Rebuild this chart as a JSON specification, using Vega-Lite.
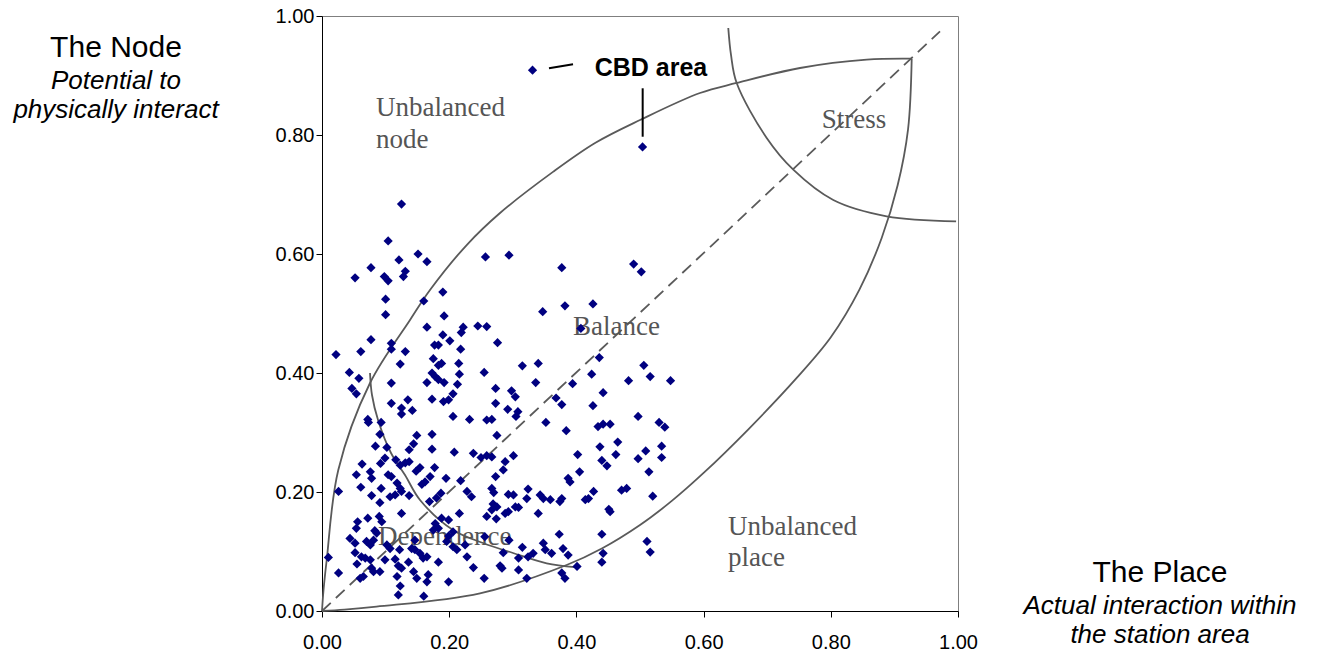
{
  "$schema": "https://vega.github.io/schema/vega-lite/v6.json",
  "width": 636,
  "height": 595,
  "autosize": {"type": "none"},
  "padding": {"left": 322, "top": 16, "right": 373, "bottom": 44},
  "background": "white",
  "config": {
    "view": {"stroke": "#7f7f7f", "strokeWidth": 1},
    "axis": {
      "domainColor": "#000000",
      "tickColor": "#000000",
      "labelColor": "#000000",
      "labelFont": "Liberation Sans",
      "labelFontSize": 20,
      "labelFlush": false,
      "labelOverlap": false,
      "grid": false,
      "tickSize": 6,
      "title": null
    }
  },
  "datasets": {
    "points": [
      {"x":0.125,"y":0.684},{"x":0.104,"y":0.622},{"x":0.151,"y":0.600},{"x":0.121,"y":0.590},{"x":0.165,"y":0.587},
      {"x":0.077,"y":0.577},{"x":0.131,"y":0.571},{"x":0.128,"y":0.562},{"x":0.052,"y":0.560},{"x":0.098,"y":0.562},
      {"x":0.104,"y":0.555},{"x":0.257,"y":0.595},{"x":0.100,"y":0.524},{"x":0.160,"y":0.521},{"x":0.190,"y":0.536},
      {"x":0.100,"y":0.498},{"x":0.192,"y":0.496},{"x":0.165,"y":0.477},{"x":0.222,"y":0.477},{"x":0.245,"y":0.479},
      {"x":0.259,"y":0.478},{"x":0.294,"y":0.598},{"x":0.377,"y":0.577},{"x":0.490,"y":0.583},{"x":0.502,"y":0.570},
      {"x":0.347,"y":0.503},{"x":0.382,"y":0.513},{"x":0.426,"y":0.516},{"x":0.407,"y":0.475},{"x":0.276,"y":0.451},
      {"x":0.436,"y":0.426},{"x":0.315,"y":0.412},{"x":0.340,"y":0.416},{"x":0.255,"y":0.401},{"x":0.506,"y":0.413},
      {"x":0.516,"y":0.394},{"x":0.424,"y":0.398},{"x":0.336,"y":0.384},{"x":0.273,"y":0.374},{"x":0.394,"y":0.382},
      {"x":0.482,"y":0.387},{"x":0.298,"y":0.370},{"x":0.304,"y":0.360},{"x":0.442,"y":0.367},{"x":0.368,"y":0.358},
      {"x":0.377,"y":0.347},{"x":0.273,"y":0.349},{"x":0.292,"y":0.339},{"x":0.308,"y":0.335},{"x":0.305,"y":0.327},
      {"x":0.426,"y":0.345},{"x":0.497,"y":0.327},{"x":0.219,"y":0.468},{"x":0.077,"y":0.456},{"x":0.190,"y":0.464},
      {"x":0.201,"y":0.454},{"x":0.109,"y":0.450},{"x":0.109,"y":0.440},{"x":0.177,"y":0.447},{"x":0.183,"y":0.447},
      {"x":0.218,"y":0.440},{"x":0.022,"y":0.431},{"x":0.061,"y":0.436},{"x":0.131,"y":0.436},{"x":0.175,"y":0.424},
      {"x":0.123,"y":0.415},{"x":0.215,"y":0.416},{"x":0.183,"y":0.413},{"x":0.188,"y":0.416},{"x":0.043,"y":0.401},
      {"x":0.058,"y":0.391},{"x":0.173,"y":0.400},{"x":0.178,"y":0.394},{"x":0.183,"y":0.389},{"x":0.216,"y":0.398},
      {"x":0.165,"y":0.384},{"x":0.192,"y":0.384},{"x":0.213,"y":0.381},{"x":0.109,"y":0.383},{"x":0.047,"y":0.374},
      {"x":0.054,"y":0.365},{"x":0.206,"y":0.365},{"x":0.173,"y":0.356},{"x":0.191,"y":0.352},{"x":0.199,"y":0.355},
      {"x":0.135,"y":0.355},{"x":0.109,"y":0.349},{"x":0.125,"y":0.341},{"x":0.125,"y":0.331},{"x":0.142,"y":0.337},
      {"x":0.206,"y":0.327},{"x":0.232,"y":0.322},{"x":0.259,"y":0.321},{"x":0.267,"y":0.322},{"x":0.072,"y":0.322},
      {"x":0.073,"y":0.317},{"x":0.093,"y":0.317},{"x":0.091,"y":0.297},{"x":0.149,"y":0.295},{"x":0.173,"y":0.297},
      {"x":0.275,"y":0.295},{"x":0.084,"y":0.277},{"x":0.102,"y":0.275},{"x":0.144,"y":0.281},{"x":0.137,"y":0.271},
      {"x":0.173,"y":0.272},{"x":0.208,"y":0.267},{"x":0.238,"y":0.265},{"x":0.250,"y":0.258},{"x":0.259,"y":0.261},
      {"x":0.267,"y":0.259},{"x":0.063,"y":0.247},{"x":0.099,"y":0.257},{"x":0.092,"y":0.248},{"x":0.116,"y":0.254},
      {"x":0.123,"y":0.245},{"x":0.131,"y":0.249},{"x":0.137,"y":0.251},{"x":0.154,"y":0.241},{"x":0.148,"y":0.235},
      {"x":0.177,"y":0.241},{"x":0.054,"y":0.229},{"x":0.076,"y":0.234},{"x":0.078,"y":0.223},{"x":0.104,"y":0.229},
      {"x":0.109,"y":0.226},{"x":0.170,"y":0.226},{"x":0.162,"y":0.217},{"x":0.157,"y":0.213},{"x":0.195,"y":0.223},
      {"x":0.218,"y":0.219},{"x":0.273,"y":0.226},{"x":0.026,"y":0.201},{"x":0.061,"y":0.208},{"x":0.093,"y":0.206},
      {"x":0.118,"y":0.215},{"x":0.123,"y":0.206},{"x":0.125,"y":0.201},{"x":0.107,"y":0.192},{"x":0.115,"y":0.195},
      {"x":0.078,"y":0.194},{"x":0.091,"y":0.182},{"x":0.137,"y":0.194},{"x":0.187,"y":0.198},{"x":0.180,"y":0.190},
      {"x":0.169,"y":0.184},{"x":0.228,"y":0.201},{"x":0.235,"y":0.192},{"x":0.267,"y":0.206},{"x":0.270,"y":0.199},
      {"x":0.269,"y":0.180},{"x":0.267,"y":0.170},{"x":0.274,"y":0.155},{"x":0.259,"y":0.159},{"x":0.125,"y":0.164},
      {"x":0.072,"y":0.156},{"x":0.090,"y":0.159},{"x":0.094,"y":0.150},{"x":0.056,"y":0.150},{"x":0.054,"y":0.139},
      {"x":0.083,"y":0.135},{"x":0.086,"y":0.131},{"x":0.216,"y":0.164},{"x":0.188,"y":0.156},{"x":0.199,"y":0.153},
      {"x":0.178,"y":0.147},{"x":0.175,"y":0.136},{"x":0.183,"y":0.139},{"x":0.206,"y":0.133},{"x":0.199,"y":0.126},
      {"x":0.196,"y":0.117},{"x":0.044,"y":0.122},{"x":0.052,"y":0.114},{"x":0.070,"y":0.117},{"x":0.076,"y":0.111},
      {"x":0.081,"y":0.119},{"x":0.102,"y":0.111},{"x":0.107,"y":0.105},{"x":0.146,"y":0.119},{"x":0.146,"y":0.103},
      {"x":0.141,"y":0.105},{"x":0.122,"y":0.103},{"x":0.052,"y":0.098},{"x":0.062,"y":0.091},{"x":0.068,"y":0.089},
      {"x":0.076,"y":0.086},{"x":0.212,"y":0.103},{"x":0.206,"y":0.108},{"x":0.225,"y":0.111},{"x":0.228,"y":0.091},
      {"x":0.256,"y":0.125},{"x":0.154,"y":0.097},{"x":0.159,"y":0.089},{"x":0.165,"y":0.091},{"x":0.010,"y":0.090},
      {"x":0.099,"y":0.086},{"x":0.115,"y":0.087},{"x":0.055,"y":0.079},{"x":0.136,"y":0.082},{"x":0.120,"y":0.076},
      {"x":0.125,"y":0.072},{"x":0.183,"y":0.082},{"x":0.078,"y":0.072},{"x":0.081,"y":0.066},{"x":0.091,"y":0.066},
      {"x":0.026,"y":0.064},{"x":0.238,"y":0.073},{"x":0.280,"y":0.076},{"x":0.144,"y":0.066},{"x":0.149,"y":0.055},
      {"x":0.167,"y":0.061},{"x":0.165,"y":0.049},{"x":0.060,"y":0.055},{"x":0.065,"y":0.058},{"x":0.118,"y":0.058},
      {"x":0.199,"y":0.049},{"x":0.255,"y":0.055},{"x":0.123,"y":0.042},{"x":0.120,"y":0.027},{"x":0.160,"y":0.025},
      {"x":0.352,"y":0.317},{"x":0.384,"y":0.303},{"x":0.434,"y":0.310},{"x":0.442,"y":0.314},{"x":0.453,"y":0.314},
      {"x":0.530,"y":0.317},{"x":0.539,"y":0.309},{"x":0.301,"y":0.261},{"x":0.288,"y":0.251},{"x":0.285,"y":0.237},
      {"x":0.402,"y":0.263},{"x":0.437,"y":0.276},{"x":0.465,"y":0.284},{"x":0.462,"y":0.263},{"x":0.440,"y":0.253},
      {"x":0.448,"y":0.244},{"x":0.497,"y":0.256},{"x":0.509,"y":0.269},{"x":0.514,"y":0.234},{"x":0.405,"y":0.234},
      {"x":0.387,"y":0.223},{"x":0.390,"y":0.217},{"x":0.293,"y":0.196},{"x":0.301,"y":0.195},{"x":0.324,"y":0.205},
      {"x":0.322,"y":0.189},{"x":0.343,"y":0.195},{"x":0.348,"y":0.189},{"x":0.359,"y":0.187},{"x":0.377,"y":0.189},
      {"x":0.374,"y":0.184},{"x":0.427,"y":0.201},{"x":0.419,"y":0.189},{"x":0.414,"y":0.187},{"x":0.471,"y":0.203},
      {"x":0.479,"y":0.206},{"x":0.520,"y":0.193},{"x":0.275,"y":0.175},{"x":0.288,"y":0.164},{"x":0.293,"y":0.167},
      {"x":0.304,"y":0.175},{"x":0.309,"y":0.174},{"x":0.340,"y":0.164},{"x":0.451,"y":0.171},{"x":0.453,"y":0.167},
      {"x":0.294,"y":0.119},{"x":0.373,"y":0.129},{"x":0.440,"y":0.129},{"x":0.315,"y":0.107},{"x":0.348,"y":0.114},
      {"x":0.351,"y":0.103},{"x":0.361,"y":0.097},{"x":0.285,"y":0.098},{"x":0.324,"y":0.091},{"x":0.332,"y":0.097},
      {"x":0.379,"y":0.105},{"x":0.387,"y":0.094},{"x":0.442,"y":0.097},{"x":0.440,"y":0.082},{"x":0.511,"y":0.117},
      {"x":0.516,"y":0.099},{"x":0.309,"y":0.089},{"x":0.283,"y":0.072},{"x":0.309,"y":0.069},{"x":0.401,"y":0.075},
      {"x":0.377,"y":0.064},{"x":0.382,"y":0.055},{"x":0.322,"y":0.055},{"x":0.548,"y":0.387},{"x":0.534,"y":0.277},
      {"x":0.534,"y":0.258},{"x":0.331,"y":0.909},{"x":0.504,"y":0.780}
    ],
    "curves": [
      {"curve":"upper","i":0,"x":0,"y":0},{"curve":"upper","i":1,"x":0.0024,"y":0.0353},{"curve":"upper","i":2,"x":0.0074,"y":0.0857},
      {"curve":"upper","i":3,"x":0.0256,"y":0.237},{"curve":"upper","i":4,"x":0.0755,"y":0.3832},{"curve":"upper","i":5,"x":0.1384,"y":0.4891},
      {"curve":"upper","i":6,"x":0.1698,"y":0.5395},{"curve":"upper","i":7,"x":0.2275,"y":0.6151},{"curve":"upper","i":8,"x":0.2799,"y":0.6689},
      {"curve":"upper","i":9,"x":0.3632,"y":0.738},{"curve":"upper","i":10,"x":0.43,"y":0.787},{"curve":"upper","i":11,"x":0.5,"y":0.8252},
      {"curve":"upper","i":12,"x":0.5943,"y":0.8706},{"curve":"upper","i":13,"x":0.652,"y":0.8874},{"curve":"upper","i":14,"x":0.7516,"y":0.9126},
      {"curve":"upper","i":15,"x":0.8565,"y":0.9266},{"curve":"upper","i":16,"x":0.9272,"y":0.9282},
      {"curve":"lower","i":0,"x":0,"y":0},{"curve":"lower","i":1,"x":0.0353,"y":0.0024},{"curve":"lower","i":2,"x":0.0857,"y":0.0074},
      {"curve":"lower","i":3,"x":0.2484,"y":0.0297},{"curve":"lower","i":4,"x":0.3847,"y":0.0773},{"curve":"lower","i":5,"x":0.44,"y":0.105},
      {"curve":"lower","i":6,"x":0.5,"y":0.1445},{"curve":"lower","i":7,"x":0.55,"y":0.185},{"curve":"lower","i":8,"x":0.6,"y":0.232},
      {"curve":"lower","i":9,"x":0.67,"y":0.305},{"curve":"lower","i":10,"x":0.745,"y":0.39},{"curve":"lower","i":11,"x":0.8,"y":0.46},
      {"curve":"lower","i":12,"x":0.845,"y":0.54},{"curve":"lower","i":13,"x":0.88,"y":0.627},{"curve":"lower","i":14,"x":0.905,"y":0.715},
      {"curve":"lower","i":15,"x":0.9215,"y":0.81},{"curve":"lower","i":16,"x":0.9272,"y":0.9282},
      {"curve":"stress","i":0,"x":0.6388,"y":0.9798},{"curve":"stress","i":1,"x":0.6431,"y":0.9345},{"curve":"stress","i":2,"x":0.652,"y":0.8874},
      {"curve":"stress","i":3,"x":0.6992,"y":0.795},{"curve":"stress","i":4,"x":0.741,"y":0.7417},{"curve":"stress","i":5,"x":0.8039,"y":0.6908},
      {"curve":"stress","i":6,"x":0.8879,"y":0.6634},{"curve":"stress","i":7,"x":0.997,"y":0.655},
      {"curve":"dependence","i":0,"x":0.0755,"y":0.4},{"curve":"dependence","i":1,"x":0.0786,"y":0.363},{"curve":"dependence","i":2,"x":0.0881,"y":0.321},
      {"curve":"dependence","i":3,"x":0.1085,"y":0.2655},{"curve":"dependence","i":4,"x":0.1305,"y":0.2286},{"curve":"dependence","i":5,"x":0.1541,"y":0.1866},
      {"curve":"dependence","i":6,"x":0.206,"y":0.1361},{"curve":"dependence","i":7,"x":0.2531,"y":0.1143},{"curve":"dependence","i":8,"x":0.3003,"y":0.0975},
      {"curve":"dependence","i":9,"x":0.3533,"y":0.0802},{"curve":"dependence","i":10,"x":0.3978,"y":0.0739}
    ],
    "diagonal": [{"x":0,"y":0},{"x":0.9717,"y":0.9743}],
    "zoneLabels": [
      {"x":0.0849,"y":0.8454,"t":"Unbalanced"},
      {"x":0.0849,"y":0.7916,"t":"node"},
      {"x":0.7857,"y":0.8252,"t":"Stress"},
      {"x":0.3947,"y":0.4773,"t":"Balance"},
      {"x":0.0881,"y":0.1244,"t":"Dependence"},
      {"x":0.6384,"y":0.1412,"t":"Unbalanced"},
      {"x":0.6384,"y":0.0891,"t":"place"}
    ],
    "cbdLabel": [{"x":0.5173,"y":0.9131,"t":"CBD area"}],
    "cbdLines": [
      {"x":0.3569,"y":0.9121,"x2":0.3947,"y2":0.9188},
      {"x":0.5042,"y":0.8785,"x2":0.5042,"y2":0.7971}
    ],
    "axisTitles": [
      {"x":-0.3239,"y":0.9311,"t":"The Node"},
      {"x":1.3176,"y":0.0487,"t":"The Place"}
    ],
    "axisSubtitles": [
      {"x":-0.3239,"y":0.8773,"t":"Potential to"},
      {"x":-0.3239,"y":0.8286,"t":"physically interact"},
      {"x":1.3176,"y":-0.005,"t":"Actual interaction within"},
      {"x":1.3176,"y":-0.0538,"t":"the station area"}
    ]
  },
  "encoding": {
    "x": {
      "field": "x", "type": "quantitative",
      "scale": {"domain": [0, 1], "nice": false, "zero": false},
      "axis": {"values": [0, 0.2, 0.4, 0.6, 0.8, 1], "format": ".2f", "labelPadding": 15}
    },
    "y": {
      "field": "y", "type": "quantitative",
      "scale": {"domain": [0, 1], "nice": false, "zero": false},
      "axis": {"values": [0, 0.2, 0.4, 0.6, 0.8, 1], "format": ".2f", "labelPadding": 2}
    }
  },
  "layer": [
    {
      "data": {"name": "curves"},
      "mark": {"type": "line", "interpolate": "catmull-rom", "stroke": "#5a5a5a", "strokeWidth": 1.8},
      "encoding": {
        "detail": {"field": "curve", "type": "nominal"},
        "order": {"field": "i", "type": "quantitative"}
      }
    },
    {
      "data": {"name": "diagonal"},
      "mark": {"type": "line", "stroke": "#5a5a5a", "strokeWidth": 1.8, "strokeDash": [12, 7]},
      "encoding": {}
    },
    {
      "data": {"name": "zoneLabels"},
      "mark": {"type": "text", "font": "Liberation Serif", "fontSize": 27, "fill": "#555555", "align": "left", "baseline": "middle"},
      "encoding": {"text": {"field": "t", "type": "nominal"}}
    },
    {
      "data": {"name": "cbdLines"},
      "mark": {"type": "rule", "stroke": "#000000", "strokeWidth": 2},
      "encoding": {
        "x2": {"field": "x2"},
        "y2": {"field": "y2"}
      }
    },
    {
      "data": {"name": "points"},
      "mark": {"type": "point", "shape": "diamond", "filled": true, "size": 85, "fill": "#000080", "opacity": 1, "strokeWidth": 0},
      "encoding": {}
    },
    {
      "data": {"name": "cbdLabel"},
      "mark": {"type": "text", "font": "Liberation Sans", "fontSize": 25, "fontWeight": "bold", "fill": "#000000", "align": "center", "baseline": "middle"},
      "encoding": {"text": {"field": "t", "type": "nominal"}}
    },
    {
      "data": {"name": "axisTitles"},
      "mark": {"type": "text", "font": "Liberation Sans", "fontSize": 30, "fill": "#000000", "align": "center", "baseline": "alphabetic"},
      "encoding": {"text": {"field": "t", "type": "nominal"}}
    },
    {
      "data": {"name": "axisSubtitles"},
      "mark": {"type": "text", "font": "Liberation Sans", "fontSize": 26, "fontStyle": "italic", "fill": "#000000", "align": "center", "baseline": "alphabetic"},
      "encoding": {"text": {"field": "t", "type": "nominal"}}
    }
  ]
}
